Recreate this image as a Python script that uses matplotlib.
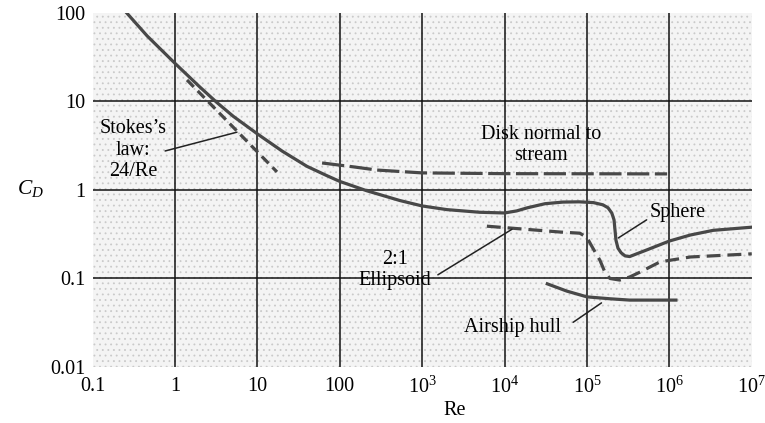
import numpy as np
import matplotlib
matplotlib.use("Agg")
import matplotlib.pyplot as plt
from matplotlib.patches import Rectangle

plt.rcParams['font.family'] = ['Liberation Serif', 'DejaVu Serif']
plt.rcParams['mathtext.fontset'] = 'custom'
plt.rcParams['mathtext.rm'] = 'Liberation Serif'
plt.rcParams['mathtext.it'] = 'Liberation Serif:italic'
plt.rcParams['lines.scale_dashes'] = False
plt.rcParams['hatch.linewidth'] = 0.6

# drag curves (Re, C_D)
sphere_re = [0.26, 0.46, 1, 2.0, 3.2, 5.1, 10.2, 20, 40, 70, 100, 213, 537, 1e3,
             2e3, 5e3, 1.0e4, 1.4e4, 1.9e4, 3.1e4, 5.1e4, 8e4, 1.2e5, 1.56e5,
             1.8e5, 2.0e5, 2.13e5, 2.25e5, 2.38e5, 2.6e5, 2.9e5, 3.3e5,
             5.3e5, 1.0e6, 1.8e6, 3.4e6, 1e7]
sphere_cd = [100, 55, 27, 14.6, 9.8, 6.8, 4.25, 2.75, 1.85, 1.45, 1.25, 0.98, 0.76, 0.66,
             0.6, 0.56, 0.55, 0.58, 0.63, 0.70, 0.73, 0.735, 0.72, 0.68,
             0.63, 0.55, 0.46, 0.27, 0.22, 0.195, 0.18, 0.177,
             0.21, 0.265, 0.31, 0.35, 0.38]

stokes_re = [1.4, 17.3]
stokes_cd = [17.5, 1.6]

disk_re = [61, 150, 283, 1e3, 1e4, 9.4e5]
disk_cd = [2.02, 1.82, 1.68, 1.56, 1.53, 1.52]

ellip_re = [6.1e3, 4.7e4, 8.2e4, 1e5, 1.18e5, 1.44e5, 1.65e5, 1.9e5, 2.5e5,
            3.3e5, 4.4e5, 7.7e5, 1.8e6, 1e7]
ellip_cd = [0.39, 0.335, 0.325, 0.29, 0.22, 0.16, 0.118, 0.10, 0.096,
            0.104, 0.118, 0.154, 0.175, 0.19]

hull_re = [3.3e4, 5.7e4, 1e5, 1.9e5, 3.3e5, 1.2e6]
hull_cd = [0.087, 0.072, 0.062, 0.059, 0.057, 0.057]

x_ticks = [0.1, 1, 10, 100, 1e3, 1e4, 1e5, 1e6, 1e7]
x_labels = ['0.1', '1', '10', '100', r'$10^3$', r'$10^4$', r'$10^5$', r'$10^6$', r'$10^7$']
y_ticks = [0.01, 0.1, 1, 10, 100]
y_labels = ['0.01', '0.1', '1', '10', '100']

curve_col = '#484848'
fs = 14.5

fig = plt.figure(figsize=(7.65, 4.23), dpi=100)
ax = fig.add_axes([0.1210, 0.1324, 0.8617, 0.8369])
ax.set_facecolor('#f4f4f4')
# stippled paper look
ax.add_patch(Rectangle((0, 0), 1, 1, transform=ax.transAxes, facecolor='none',
                       edgecolor='#cacaca', lw=0, hatch='...', zorder=0))
ax.set_xscale('log')
ax.set_yscale('log')
ax.set_xlim(0.1, 1e7)
ax.set_ylim(0.01, 100)
for s in ax.spines.values():
    s.set_visible(False)

# interior grid only
for xv in x_ticks[1:-1]:
    ax.axvline(xv, color='#111111', lw=1.1, zorder=1)
for yv in y_ticks[1:-1]:
    ax.axhline(yv, color='#111111', lw=1.1, zorder=1)

ax.plot(sphere_re, sphere_cd, color=curve_col, lw=2.3, zorder=3,
        solid_joinstyle='round')
ax.plot(stokes_re, stokes_cd, color=curve_col, lw=2.3, dashes=(7, 4), zorder=3)
ax.plot(disk_re, disk_cd, color=curve_col, lw=2.3, dashes=(16, 4), zorder=3)
ax.plot(ellip_re, ellip_cd, color=curve_col, lw=2.3, dashes=(10, 5), zorder=3)
ax.plot(hull_re, hull_cd, color=curve_col, lw=2.3, zorder=3,
        solid_joinstyle='round')

ax.set_xticks(x_ticks)
ax.set_xticklabels(x_labels, fontsize=fs)
ax.set_yticks(y_ticks)
ax.set_yticklabels(y_labels, fontsize=fs)
ax.minorticks_off()
ax.tick_params(axis='both', length=0)
ax.tick_params(axis='x', pad=7)
ax.tick_params(axis='y', pad=5)

fig.text(30 / 765, 1 - 188 / 423, r'$C_D$', fontsize=fs + 1, ha='center', va='center')
fig.text(455 / 765, 1 - 410 / 423, 'Re', fontsize=fs, ha='center', va='center')

# labels with leader lines
lead = dict(arrowstyle='-', color='#222222', lw=1.1, shrinkA=0, shrinkB=0)
ax.text(0.31, 2.83, "Stokes\u2019s\nlaw:\n24/Re", fontsize=fs, ha='center', va='center',
        linespacing=1.15)
ax.annotate('', xy=(5.65, 4.5), xytext=(0.76, 2.76), arrowprops=lead)

ax.text(2.8e4, 3.2, 'Disk normal to\nstream', fontsize=fs, ha='center', va='center',
        linespacing=1.15)

ax.text(5.8e5, 0.56, 'Sphere', fontsize=fs, ha='left', va='center')
ax.annotate('', xy=(2.4e5, 0.287), xytext=(5.3e5, 0.46), arrowprops=lead)

ax.text(468, 0.125, '2:1\nEllipsoid', fontsize=fs, ha='center', va='center',
        linespacing=1.15)
ax.annotate('', xy=(1.23e4, 0.36), xytext=(1.55e3, 0.11), arrowprops=lead)

ax.text(1.26e4, 0.028, 'Airship hull', fontsize=fs, ha='center', va='center')
ax.annotate('', xy=(1.5e5, 0.053), xytext=(6.8e4, 0.032), arrowprops=lead)

fig.savefig('out.png', dpi=100)
